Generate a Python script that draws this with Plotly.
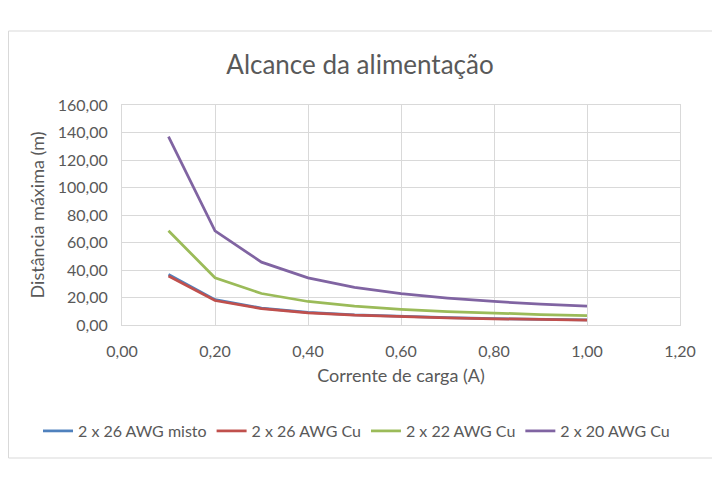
import plotly.graph_objects as go

corrente = [0.1, 0.2, 0.3, 0.4, 0.5, 0.6, 0.7, 0.8, 0.9, 1.0]
awg26_misto = [36.8, 18.4, 12.3, 9.2, 7.4, 6.1, 5.3, 4.6, 4.1, 3.7]
awg26_cu = [35.6, 17.8, 11.9, 8.9, 7.1, 5.9, 5.1, 4.5, 4.0, 3.6]
awg22_cu = [68.6, 34.3, 22.9, 17.1, 13.7, 11.4, 9.8, 8.6, 7.6, 6.9]
awg20_cu = [137.0, 68.5, 45.7, 34.3, 27.4, 22.8, 19.6, 17.1, 15.2, 13.7]

series = [
    ("2 x 26 AWG misto", awg26_misto, "#4F81BD"),
    ("2 x 26 AWG Cu", awg26_cu, "#C0504D"),
    ("2 x 22 AWG Cu", awg22_cu, "#9BBB59"),
    ("2 x 20 AWG Cu", awg20_cu, "#8064A2"),
]

font_family = "Lato, 'Open Sans', sans-serif"
gray = "#595959"
grid = "#d9d9d9"

fig = go.Figure()
for name, vals, color in series:
    fig.add_trace(go.Scatter(x=corrente, y=vals, mode="lines", name=name,
                             line=dict(color=color, width=2.75)))

# page offset of the figure inside the browser body (default 8px margin)
OFF = 8
W, H = 720 - OFF, 492 - OFF
L, R, T, B = 122 - OFF, 680 - OFF, 105 - OFF, 325 - OFF
pw, ph = R - L, B - T

def px(x):
    return (x - OFF - L) / pw

def py(y):
    return (B - (y - OFF)) / ph

fig.update_layout(
    width=W, height=H,
    margin=dict(l=L, r=W - R, t=T, b=H - B, autoexpand=False),
    paper_bgcolor="white", plot_bgcolor="white",
    separators=", ",
    font=dict(family=font_family, color=gray, size=16),
    title=dict(text="Alcance da alimentação", xref="container",
               x=(360 - OFF) / W, xanchor="center",
               yref="container", y=1 - (65 - OFF) / H, yanchor="middle",
               font=dict(size=26, color=gray, family=font_family)),
    showlegend=True,
    legend=dict(orientation="h", x=px(38), xanchor="left",
                y=py(431), yanchor="middle",
                bgcolor="rgba(0,0,0,0)",
                font=dict(size=16, color=gray), itemwidth=30,
                tracegroupgap=0),
    xaxis=dict(range=[0, 1.2], dtick=0.2, tick0=0, tickformat=".2f",
               showgrid=True, gridcolor=grid, gridwidth=1,
               zeroline=False, showline=True, linecolor=grid, mirror=True,
               ticks="", ticklabelstandoff=12, tickangle=0,
               tickfont=dict(size=16, color=gray),
               title=dict(text="Corrente de carga (A)", standoff=10,
                          font=dict(size=18, color=gray))),
    yaxis=dict(range=[0, 160], dtick=20, tick0=0, tickformat=".2f",
               showgrid=True, gridcolor=grid, gridwidth=1,
               zeroline=False, showline=True, linecolor=grid, mirror=True,
               ticks="", ticklabelstandoff=10,
               tickfont=dict(size=16, color=gray),
               title=dict(text="Distância máxima (m)", standoff=8,
                          font=dict(size=18, color=gray))),
    shapes=[dict(type="rect", xref="paper", yref="paper",
                 x0=px(OFF + 0.5), x1=px(718), y0=py(458), y1=py(31),
                 line=dict(color=grid, width=1), fillcolor="rgba(0,0,0,0)",
                 layer="below")],
)

fig.write_html("out.html")
